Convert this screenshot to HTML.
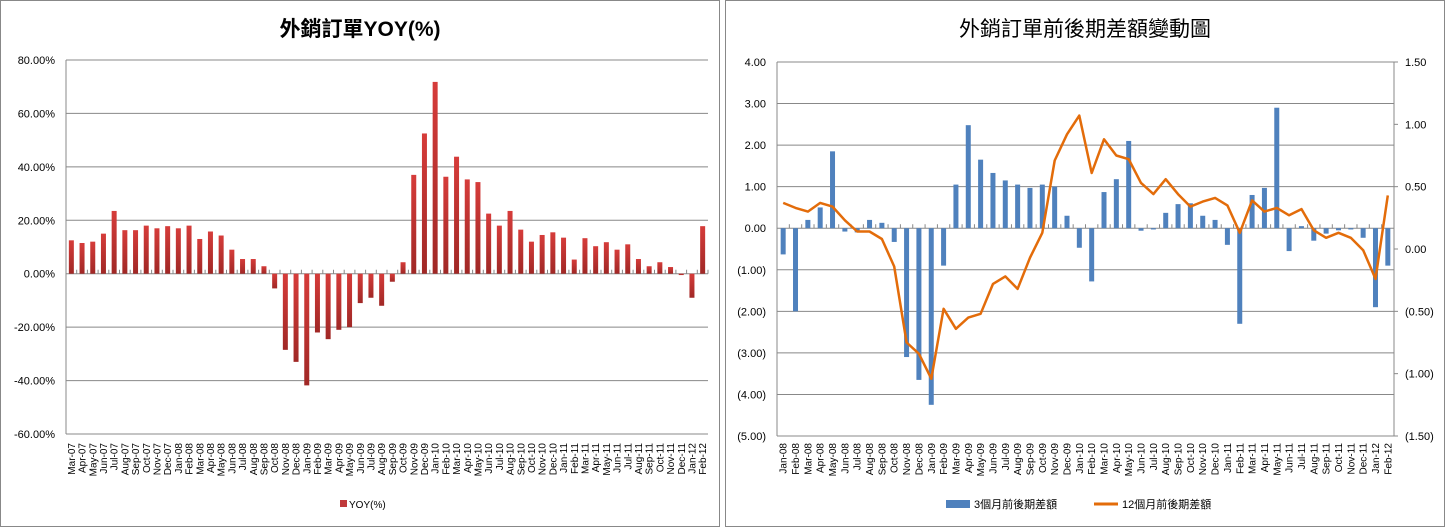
<!DOCTYPE html>
<html><head><meta charset="utf-8"><style>
body{margin:0;width:1446px;height:528px;background:#fff;overflow:hidden;font-family:"Liberation Sans","Noto Sans CJK TC",sans-serif}
svg{position:absolute;left:0;top:0}
</style></head><body>
<svg id="s" width="1446" height="528">
<defs><linearGradient id="rg" x1="0" y1="0" x2="0" y2="1"><stop offset="0" stop-color="#d63c3a"/><stop offset="1" stop-color="#a02826"/></linearGradient></defs>
<rect x="0.5" y="0.5" width="719" height="526" fill="#fff" stroke="#888"/>
<rect x="725.5" y="0.5" width="719" height="526" fill="#fff" stroke="#888"/>
<text x="360" y="36" text-anchor="middle" font-size="21" font-weight="bold" fill="#000">外銷訂單YOY(%)</text>
<text x="1085" y="36" text-anchor="middle" font-size="21" fill="#000">外銷訂單前後期差額變動圖</text>
<g id="L"></g><g id="R"></g>
<rect x="340" y="500" width="7" height="7" fill="#c0393b"/>
<text x="349" y="508" font-size="10">YOY(%)</text>
<rect x="946" y="500" width="24" height="8" fill="#4f81bd"/>
<text x="974" y="508" font-size="11">3個月前後期差額</text>
<line x1="1094" y1="504" x2="1118" y2="504" stroke="#e36c0a" stroke-width="3"/>
<text x="1122" y="508" font-size="11">12個月前後期差額</text>
</svg>
<script>
const leftCats=["Mar-07","Apr-07","May-07","Jun-07","Jul-07","Aug-07","Sep-07","Oct-07","Nov-07","Dec-07","Jan-08","Feb-08","Mar-08","Apr-08","May-08","Jun-08","Jul-08","Aug-08","Sep-08","Oct-08","Nov-08","Dec-08","Jan-09","Feb-09","Mar-09","Apr-09","May-09","Jun-09","Jul-09","Aug-09","Sep-09","Oct-09","Nov-09","Dec-09","Jan-10","Feb-10","Mar-10","Apr-10","May-10","Jun-10","Jul-10","Aug-10","Sep-10","Oct-10","Nov-10","Dec-10","Jan-11","Feb-11","Mar-11","Apr-11","May-11","Jun-11","Jul-11","Aug-11","Sep-11","Oct-11","Nov-11","Dec-11","Jan-12","Feb-12"];
const yoyValues=[12.5,11.5,12,15,23.5,16.3,16.3,18,17,17.8,17,18,13,15.8,14.3,9,5.5,5.5,2.8,-5.5,-28.5,-33,-41.8,-22,-24.5,-21,-20,-11,-9,-12,-3,4.3,37,52.5,71.8,36.3,43.8,35.3,34.3,22.5,18,23.5,16.5,12,14.5,15.5,13.5,5.3,13.3,10.3,11.8,9,11,5.5,2.8,4.3,2.5,-0.5,-9,17.8];
const leftTicks=[80,60,40,20,0,-20,-40,-60];
const rightCats=["Jan-08","Feb-08","Mar-08","Apr-08","May-08","Jun-08","Jul-08","Aug-08","Sep-08","Oct-08","Nov-08","Dec-08","Jan-09","Feb-09","Mar-09","Apr-09","May-09","Jun-09","Jul-09","Aug-09","Sep-09","Oct-09","Nov-09","Dec-09","Jan-10","Feb-10","Mar-10","Apr-10","May-10","Jun-10","Jul-10","Aug-10","Sep-10","Oct-10","Nov-10","Dec-10","Jan-11","Feb-11","Mar-11","Apr-11","May-11","Jun-11","Jul-11","Aug-11","Sep-11","Oct-11","Nov-11","Dec-11","Jan-12","Feb-12"];
const diff3m=[-0.63,-2.0,0.2,0.5,1.85,-0.08,-0.1,0.2,0.13,-0.33,-3.1,-3.65,-4.25,-0.9,1.05,2.48,1.65,1.33,1.15,1.05,0.97,1.05,1.0,0.3,-0.47,-1.28,0.87,1.18,2.1,-0.06,-0.03,0.37,0.58,0.6,0.3,0.2,-0.4,-2.3,0.8,0.97,2.9,-0.55,0.05,-0.3,-0.13,-0.05,-0.03,-0.23,-1.9,-0.9];
const diff12m=[0.37,0.33,0.30,0.37,0.34,0.23,0.14,0.14,0.08,-0.14,-0.75,-0.84,-1.04,-0.48,-0.64,-0.55,-0.52,-0.28,-0.22,-0.32,-0.07,0.13,0.71,0.92,1.07,0.61,0.88,0.75,0.72,0.53,0.44,0.56,0.44,0.34,0.38,0.41,0.35,0.13,0.39,0.30,0.33,0.27,0.32,0.15,0.09,0.13,0.09,-0.01,-0.24,0.43];
const rightTicksL=[4,3,2,1,0,-1,-2,-3,-4,-5];
const rightTicksR=[1.5,1.0,0.5,0,-0.5,-1.0,-1.5];
const NS="http://www.w3.org/2000/svg";
function mk(p,t,a){const e=document.createElementNS(NS,t);for(const k in a)e.setAttribute(k,a[k]);p.appendChild(e);return e;}
// left chart
const L=document.getElementById('L');
const lx0=66,lx1=708,ly0=60,ly1=434;
const ly=v=>ly0+(80-v)/140*(ly1-ly0);
const lbw=(lx1-lx0)/leftCats.length;
leftTicks.forEach(t=>{const g=mk(L,'line',{x1:lx0,x2:lx1,y1:ly(t),y2:ly(t),stroke:'#888','stroke-width':1});


const tx=mk(L,'text',{x:55,y:ly(t)+4,'text-anchor':'end','font-size':11});tx.textContent=t.toFixed(2)+'%';

});
mk(L,'line',{x1:lx0,x2:lx0,y1:ly0,y2:ly1,stroke:'#888'});
yoyValues.forEach((v,i)=>{const cx=lx0+lbw*(i+0.5);const y=ly(Math.max(v,0)),h=Math.abs(ly(v)-ly(0));
const r=mk(L,'rect',{x:cx-2.5,y:y,width:5,height:Math.max(h,0.8),fill:'url(#rg)'});


mk(L,'line',{x1:lx0+lbw*(i+1),x2:lx0+lbw*(i+1),y1:ly(0),y2:ly(0)-4,stroke:'#888'});
const tx=mk(L,'text',{transform:`translate(${cx+3.5},443) rotate(-90)`,'text-anchor':'end','font-size':10});tx.textContent=leftCats[i];

});
// right chart
const R=document.getElementById('R');
const rx0=777,rx1=1394,ry0=62,ry1=436;
const ryL=v=>ry0+(4-v)/9*(ry1-ry0);
const ryR=v=>ry0+(1.5-v)/3*(ry1-ry0);
const rbw=(rx1-rx0)/rightCats.length;
rightTicksL.forEach(t=>{const g=mk(R,'line',{x1:rx0,x2:rx1,y1:ryL(t),y2:ryL(t),stroke:'#888'});


const tx=mk(R,'text',{x:766,y:ryL(t)+4,'text-anchor':'end','font-size':11});tx.textContent=t<0?'('+Math.abs(t).toFixed(2)+')':t.toFixed(2);

});
rightTicksR.forEach(t=>{mk(R,'line',{x1:rx1,x2:rx1+4,y1:ryR(t),y2:ryR(t),stroke:'#888'});
const tx=mk(R,'text',{x:1405,y:ryR(t)+4,'font-size':11});tx.textContent=t<0?'('+Math.abs(t).toFixed(2)+')':t.toFixed(2);

});
mk(R,'line',{x1:rx0,x2:rx0,y1:ry0,y2:ry1,stroke:'#888'});
mk(R,'line',{x1:rx1,x2:rx1,y1:ry0,y2:ry1,stroke:'#888'});
diff3m.forEach((v,i)=>{const cx=rx0+rbw*(i+0.5);const y=ryL(Math.max(v,0)),h=Math.abs(ryL(v)-ryL(0));
const r=mk(R,'rect',{x:cx-2.5,y:y,width:5,height:Math.max(h,0.8),fill:'#4f81bd'});


mk(R,'line',{x1:rx0+rbw*(i+1),x2:rx0+rbw*(i+1),y1:ryL(0),y2:ryL(0)-4,stroke:'#888'});
const tx=mk(R,'text',{transform:`translate(${cx+3.5},443) rotate(-90)`,'text-anchor':'end','font-size':10});tx.textContent=rightCats[i];

});
const pts=diff12m.map((v,i)=>(rx0+rbw*(i+0.5)).toFixed(1)+','+ryR(v).toFixed(1)).join(' ');
const pl=mk(R,'polyline',{points:pts,fill:'none',stroke:'#e36c0a','stroke-width':2.5,'stroke-linejoin':'round'});


</script>
</body></html>
